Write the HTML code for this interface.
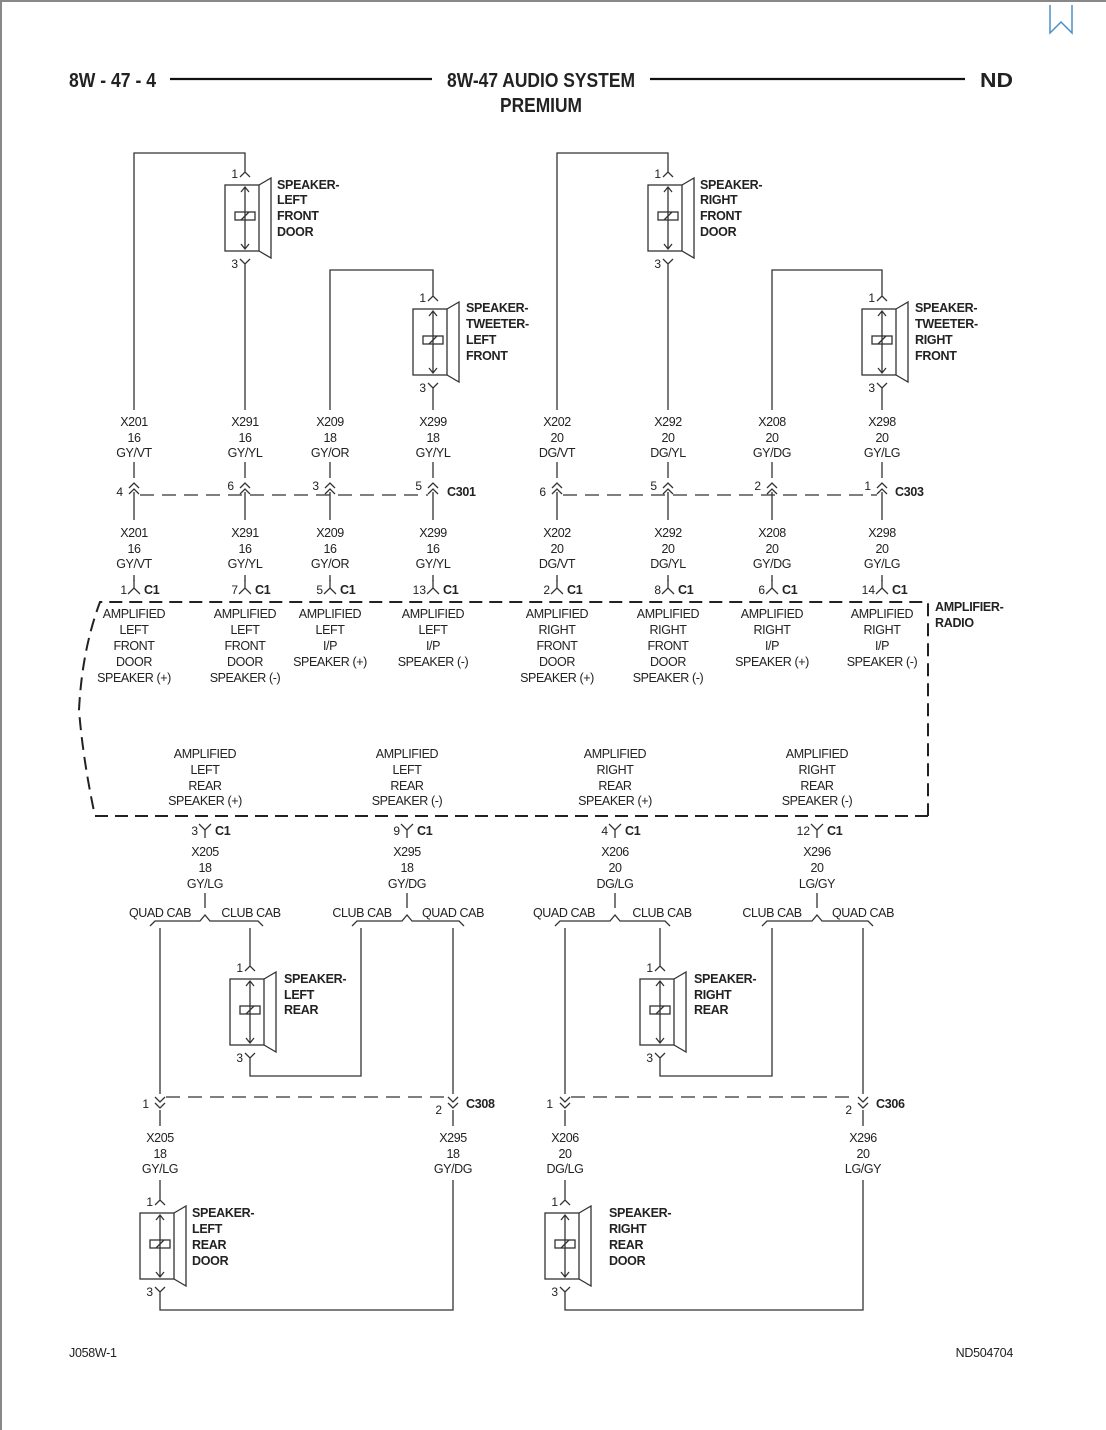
<!DOCTYPE html>
<html><head><meta charset="utf-8"><style>
html,body{margin:0;padding:0;background:#fff;}
svg{display:block;}
text{font-family:"Liberation Sans",Arial,sans-serif;fill:#222;}
.t{font-size:12.5px;text-anchor:middle;letter-spacing:-0.4px;}
.b{font-size:12.5px;font-weight:bold;letter-spacing:-0.3px;}
.p{font-size:12px;text-anchor:end;}
.w{stroke:#333;stroke-width:1.3;fill:none;}
.h{font-size:20px;font-weight:bold;}
</style></head><body>
<svg width="1106" height="1430" viewBox="0 0 1106 1430" xmlns="http://www.w3.org/2000/svg">
<defs>
<g id="spk" fill="none" stroke="#333" stroke-width="1.3">
  <rect x="-20" y="0" width="34" height="66"/>
  <path d="M14 0 L26 -7 L26 73 L14 66"/>
  <path d="M0 2 V64 M-4 7 L0 2 L4 7 M-4 59 L0 64 L4 59"/>
  <rect x="-10" y="27" width="20" height="8"/>
  <path d="M-4 35 L4 27"/>
  <path d="M-5 -8 L0 -13 L5 -8 M0 -13 V-22"/>
  <path d="M-5 74 L0 79 L5 74 M0 79 V88"/>
</g>
<g id="dup" fill="none" stroke="#333" stroke-width="1.3">
  <path d="M-5 -2 L0 -7 L5 -2 M-5 4 L0 -1 L5 4"/>
</g>
<g id="ddn" fill="none" stroke="#333" stroke-width="1.3">
  <path d="M-5 -4 L0 1 L5 -4 M-5 2 L0 7 L5 2"/>
</g>
<g id="iy" fill="none" stroke="#333" stroke-width="1.3">
  <path d="M0 -8 V0 M-6 6 L0 0 L6 6"/>
</g>
<g id="y" fill="none" stroke="#333" stroke-width="1.3">
  <path d="M-6 -6 L0 0 L6 -6 M0 0 V8"/>
</g>
</defs>

<line x1="0" y1="1" x2="1106" y2="1" stroke="#888" stroke-width="2"/>
<line x1="1" y1="0" x2="1" y2="1430" stroke="#888" stroke-width="2"/>
<path d="M1050 5 V33 L1061 22 L1072 33 V5" fill="none" stroke="#4a90c8" stroke-width="1.5"/>

<text class="h" x="69" y="87" textLength="87" lengthAdjust="spacingAndGlyphs">8W - 47 - 4</text>
<line x1="170" y1="79" x2="432" y2="79" stroke="#111" stroke-width="2.2"/>
<text class="h" x="447" y="87" textLength="188" lengthAdjust="spacingAndGlyphs">8W-47 AUDIO SYSTEM</text>
<text class="h" x="500" y="112" textLength="82" lengthAdjust="spacingAndGlyphs">PREMIUM</text>
<line x1="650" y1="79" x2="965" y2="79" stroke="#111" stroke-width="2.2"/>
<text class="h" x="980" y="87" textLength="33" lengthAdjust="spacingAndGlyphs">ND</text>

<use href="#spk" x="245" y="185"/>
<use href="#spk" x="433" y="309"/>
<use href="#spk" x="668" y="185"/>
<use href="#spk" x="882" y="309"/>
<use href="#spk" x="250" y="979"/>
<use href="#spk" x="660" y="979"/>
<use href="#spk" x="160" y="1213"/>
<use href="#spk" x="565" y="1213"/>

<text class="p" x="238" y="178">1</text><text class="p" x="238" y="268">3</text>
<text class="p" x="426" y="302">1</text><text class="p" x="426" y="392">3</text>
<text class="p" x="661" y="178">1</text><text class="p" x="661" y="268">3</text>
<text class="p" x="875" y="302">1</text><text class="p" x="875" y="392">3</text>
<text class="p" x="243" y="972">1</text><text class="p" x="243" y="1062">3</text>
<text class="p" x="653" y="972">1</text><text class="p" x="653" y="1062">3</text>
<text class="p" x="153" y="1206">1</text><text class="p" x="153" y="1296">3</text>
<text class="p" x="558" y="1206">1</text><text class="p" x="558" y="1296">3</text>

<g class="b">
<text x="277" y="189">SPEAKER-</text><text x="277" y="204">LEFT</text><text x="277" y="220">FRONT</text><text x="277" y="236">DOOR</text>
<text x="466" y="312">SPEAKER-</text><text x="466" y="328">TWEETER-</text><text x="466" y="344">LEFT</text><text x="466" y="360">FRONT</text>
<text x="700" y="189">SPEAKER-</text><text x="700" y="204">RIGHT</text><text x="700" y="220">FRONT</text><text x="700" y="236">DOOR</text>
<text x="915" y="312">SPEAKER-</text><text x="915" y="328">TWEETER-</text><text x="915" y="344">RIGHT</text><text x="915" y="360">FRONT</text>
<text x="284" y="983">SPEAKER-</text><text x="284" y="999">LEFT</text><text x="284" y="1014">REAR</text>
<text x="694" y="983">SPEAKER-</text><text x="694" y="999">RIGHT</text><text x="694" y="1014">REAR</text>
<text x="192" y="1217">SPEAKER-</text><text x="192" y="1233">LEFT</text><text x="192" y="1249">REAR</text><text x="192" y="1265">DOOR</text>
<text x="609" y="1217">SPEAKER-</text><text x="609" y="1233">RIGHT</text><text x="609" y="1249">REAR</text><text x="609" y="1265">DOOR</text>
<text x="935" y="611">AMPLIFIER-</text><text x="935" y="627">RADIO</text>
<text x="447" y="496">C301</text><text x="895" y="496">C303</text>
<text x="466" y="1108">C308</text><text x="876" y="1108">C306</text>
</g>

<path class="w" d="M134 410 V153 H245 V163"/>
<path class="w" d="M245 273 V410"/>
<path class="w" d="M330 410 V270 H433 V287"/>
<path class="w" d="M433 397 V410"/>
<path class="w" d="M557 410 V153 H668 V163"/>
<path class="w" d="M668 273 V410"/>
<path class="w" d="M772 410 V270 H882 V287"/>
<path class="w" d="M882 397 V410"/>

<g class="w">
<path d="M134 462 V520 M245 462 V520 M330 462 V520 M433 462 V520 M557 462 V520 M668 462 V520 M772 462 V520 M882 462 V520"/>
<path d="M134 575 V581 M245 575 V581 M330 575 V581 M433 575 V581 M557 575 V581 M668 575 V581 M772 575 V581 M882 575 V581"/>
</g>
<rect x="128" y="478" width="12" height="14" fill="#fff"/>
<rect x="239" y="478" width="12" height="14" fill="#fff"/>
<rect x="324" y="478" width="12" height="14" fill="#fff"/>
<rect x="427" y="478" width="12" height="14" fill="#fff"/>
<rect x="551" y="478" width="12" height="14" fill="#fff"/>
<rect x="662" y="478" width="12" height="14" fill="#fff"/>
<rect x="766" y="478" width="12" height="14" fill="#fff"/>
<rect x="876" y="478" width="12" height="14" fill="#fff"/>
<use href="#dup" x="134" y="490"/><use href="#dup" x="245" y="490"/><use href="#dup" x="330" y="490"/><use href="#dup" x="433" y="490"/>
<use href="#dup" x="557" y="490"/><use href="#dup" x="668" y="490"/><use href="#dup" x="772" y="490"/><use href="#dup" x="882" y="490"/>
<line x1="140" y1="495" x2="428" y2="495" stroke="#333" stroke-width="1.3" stroke-dasharray="14 8"/>
<line x1="563" y1="495" x2="877" y2="495" stroke="#333" stroke-width="1.3" stroke-dasharray="14 8"/>
<text class="p" x="123" y="496">4</text><text class="p" x="234" y="490">6</text><text class="p" x="319" y="490">3</text><text class="p" x="422" y="490">5</text>
<text class="p" x="546" y="496">6</text><text class="p" x="657" y="490">5</text><text class="p" x="761" y="490">2</text><text class="p" x="871" y="490">1</text>

<g class="t">
<text x="134" y="426">X201</text><text x="134" y="442">16</text><text x="134" y="457">GY/VT</text>
<text x="245" y="426">X291</text><text x="245" y="442">16</text><text x="245" y="457">GY/YL</text>
<text x="330" y="426">X209</text><text x="330" y="442">18</text><text x="330" y="457">GY/OR</text>
<text x="433" y="426">X299</text><text x="433" y="442">18</text><text x="433" y="457">GY/YL</text>
<text x="557" y="426">X202</text><text x="557" y="442">20</text><text x="557" y="457">DG/VT</text>
<text x="668" y="426">X292</text><text x="668" y="442">20</text><text x="668" y="457">DG/YL</text>
<text x="772" y="426">X208</text><text x="772" y="442">20</text><text x="772" y="457">GY/DG</text>
<text x="882" y="426">X298</text><text x="882" y="442">20</text><text x="882" y="457">GY/LG</text>

<text x="134" y="537">X201</text><text x="134" y="553">16</text><text x="134" y="568">GY/VT</text>
<text x="245" y="537">X291</text><text x="245" y="553">16</text><text x="245" y="568">GY/YL</text>
<text x="330" y="537">X209</text><text x="330" y="553">16</text><text x="330" y="568">GY/OR</text>
<text x="433" y="537">X299</text><text x="433" y="553">16</text><text x="433" y="568">GY/YL</text>
<text x="557" y="537">X202</text><text x="557" y="553">20</text><text x="557" y="568">DG/VT</text>
<text x="668" y="537">X292</text><text x="668" y="553">20</text><text x="668" y="568">DG/YL</text>
<text x="772" y="537">X208</text><text x="772" y="553">20</text><text x="772" y="568">GY/DG</text>
<text x="882" y="537">X298</text><text x="882" y="553">20</text><text x="882" y="568">GY/LG</text>
</g>

<use href="#iy" x="134" y="588"/><use href="#iy" x="245" y="588"/><use href="#iy" x="330" y="588"/><use href="#iy" x="433" y="588"/>
<use href="#iy" x="557" y="588"/><use href="#iy" x="668" y="588"/><use href="#iy" x="772" y="588"/><use href="#iy" x="882" y="588"/>
<text class="p" x="127" y="594">1</text><text class="p" x="238" y="594">7</text><text class="p" x="323" y="594">5</text><text class="p" x="426" y="594">13</text>
<text class="p" x="550" y="594">2</text><text class="p" x="661" y="594">8</text><text class="p" x="765" y="594">6</text><text class="p" x="875" y="594">14</text>
<g class="b">
<text x="144" y="594">C1</text><text x="255" y="594">C1</text><text x="340" y="594">C1</text><text x="443" y="594">C1</text>
<text x="567" y="594">C1</text><text x="678" y="594">C1</text><text x="782" y="594">C1</text><text x="892" y="594">C1</text>
</g>

<path d="M928 816 H95 Q83 760 79 710 Q82 650 100 602 H928 V816" fill="none" stroke="#222" stroke-width="2" stroke-dasharray="13 7"/>

<g class="t">
<text x="134" y="618">AMPLIFIED</text><text x="134" y="634">LEFT</text><text x="134" y="650">FRONT</text><text x="134" y="666">DOOR</text><text x="134" y="682">SPEAKER (+)</text>
<text x="245" y="618">AMPLIFIED</text><text x="245" y="634">LEFT</text><text x="245" y="650">FRONT</text><text x="245" y="666">DOOR</text><text x="245" y="682">SPEAKER (-)</text>
<text x="330" y="618">AMPLIFIED</text><text x="330" y="634">LEFT</text><text x="330" y="650">I/P</text><text x="330" y="666">SPEAKER (+)</text>
<text x="433" y="618">AMPLIFIED</text><text x="433" y="634">LEFT</text><text x="433" y="650">I/P</text><text x="433" y="666">SPEAKER (-)</text>
<text x="557" y="618">AMPLIFIED</text><text x="557" y="634">RIGHT</text><text x="557" y="650">FRONT</text><text x="557" y="666">DOOR</text><text x="557" y="682">SPEAKER (+)</text>
<text x="668" y="618">AMPLIFIED</text><text x="668" y="634">RIGHT</text><text x="668" y="650">FRONT</text><text x="668" y="666">DOOR</text><text x="668" y="682">SPEAKER (-)</text>
<text x="772" y="618">AMPLIFIED</text><text x="772" y="634">RIGHT</text><text x="772" y="650">I/P</text><text x="772" y="666">SPEAKER (+)</text>
<text x="882" y="618">AMPLIFIED</text><text x="882" y="634">RIGHT</text><text x="882" y="650">I/P</text><text x="882" y="666">SPEAKER (-)</text>

<text x="205" y="758">AMPLIFIED</text><text x="205" y="774">LEFT</text><text x="205" y="790">REAR</text><text x="205" y="805">SPEAKER (+)</text>
<text x="407" y="758">AMPLIFIED</text><text x="407" y="774">LEFT</text><text x="407" y="790">REAR</text><text x="407" y="805">SPEAKER (-)</text>
<text x="615" y="758">AMPLIFIED</text><text x="615" y="774">RIGHT</text><text x="615" y="790">REAR</text><text x="615" y="805">SPEAKER (+)</text>
<text x="817" y="758">AMPLIFIED</text><text x="817" y="774">RIGHT</text><text x="817" y="790">REAR</text><text x="817" y="805">SPEAKER (-)</text>

<text x="205" y="856">X205</text><text x="205" y="872">18</text><text x="205" y="888">GY/LG</text>
<text x="407" y="856">X295</text><text x="407" y="872">18</text><text x="407" y="888">GY/DG</text>
<text x="615" y="856">X206</text><text x="615" y="872">20</text><text x="615" y="888">DG/LG</text>
<text x="817" y="856">X296</text><text x="817" y="872">20</text><text x="817" y="888">LG/GY</text>

<text x="160" y="917">QUAD CAB</text><text x="251" y="917">CLUB CAB</text>
<text x="362" y="917">CLUB CAB</text><text x="453" y="917">QUAD CAB</text>
<text x="564" y="917">QUAD CAB</text><text x="662" y="917">CLUB CAB</text>
<text x="772" y="917">CLUB CAB</text><text x="863" y="917">QUAD CAB</text>

<text x="160" y="1142">X205</text><text x="160" y="1158">18</text><text x="160" y="1173">GY/LG</text>
<text x="453" y="1142">X295</text><text x="453" y="1158">18</text><text x="453" y="1173">GY/DG</text>
<text x="565" y="1142">X206</text><text x="565" y="1158">20</text><text x="565" y="1173">DG/LG</text>
<text x="863" y="1142">X296</text><text x="863" y="1158">20</text><text x="863" y="1173">LG/GY</text>
</g>

<use href="#y" x="205" y="830"/><use href="#y" x="407" y="830"/><use href="#y" x="615" y="830"/><use href="#y" x="817" y="830"/>
<text class="p" x="198" y="835">3</text><text class="p" x="400" y="835">9</text><text class="p" x="608" y="835">4</text><text class="p" x="810" y="835">12</text>
<g class="b"><text x="215" y="835">C1</text><text x="417" y="835">C1</text><text x="625" y="835">C1</text><text x="827" y="835">C1</text></g>

<g class="w">
<path d="M205 893 V908 M407 893 V908 M615 893 V908 M817 893 V908"/>
<path d="M150 926 L155 921 H200 L205 915 L210 921 H258 L263 926"/>
<path d="M352 926 L357 921 H402 L407 915 L412 921 H459 L464 926"/>
<path d="M555 926 L560 921 H610 L615 915 L620 921 H665 L670 926"/>
<path d="M762 926 L767 921 H812 L817 915 L822 921 H868 L873 926"/>
<path d="M160 928 V1094"/>
<path d="M250 928 V957"/>
<path d="M361 928 V1076 H250 V1067"/>
<path d="M453 928 V1094"/>
<path d="M565 928 V1094"/>
<path d="M660 928 V957"/>
<path d="M772 928 V1076 H660 V1067"/>
<path d="M863 928 V1094"/>
<path d="M160 1110 V1126 M160 1180 V1191"/>
<path d="M453 1110 V1126 M453 1180 V1310 H160 V1301"/>
<path d="M565 1110 V1126 M565 1180 V1191"/>
<path d="M863 1110 V1126 M863 1180 V1310 H565 V1301"/>
</g>
<use href="#ddn" x="160" y="1101"/><use href="#ddn" x="453" y="1101"/>
<use href="#ddn" x="565" y="1101"/><use href="#ddn" x="863" y="1101"/>
<line x1="166" y1="1097" x2="447" y2="1097" stroke="#333" stroke-width="1.3" stroke-dasharray="14 8"/>
<line x1="571" y1="1097" x2="857" y2="1097" stroke="#333" stroke-width="1.3" stroke-dasharray="14 8"/>
<text class="p" x="149" y="1108">1</text><text class="p" x="442" y="1114">2</text>
<text class="p" x="553" y="1108">1</text><text class="p" x="852" y="1114">2</text>

<text x="69" y="1357" style="font-size:12.5px;letter-spacing:-0.3px">J058W-1</text>
<text x="1013" y="1357" style="font-size:12.5px;text-anchor:end;letter-spacing:-0.3px">ND504704</text>
</svg>
</body></html>
